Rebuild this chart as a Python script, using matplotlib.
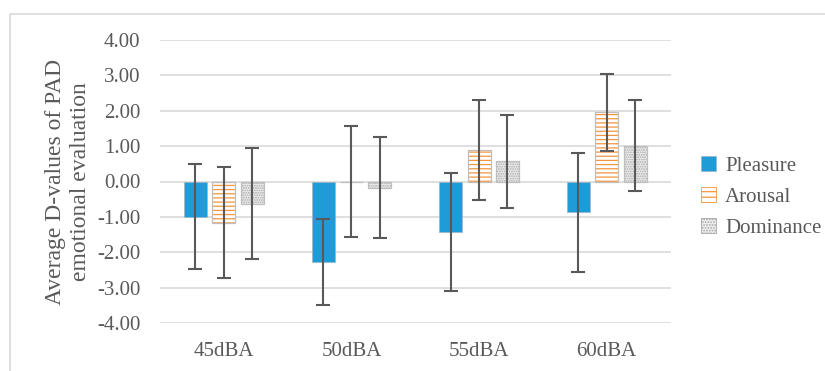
import matplotlib
matplotlib.use("Agg")
import matplotlib.pyplot as plt
import numpy as np
from matplotlib.patches import Rectangle, Patch
from matplotlib.font_manager import FontProperties

categories = ["45dBA", "50dBA", "55dBA", "60dBA"]
series = ["Pleasure", "Arousal", "Dominance"]
pleasure = [-0.99, -2.27, -1.43, -0.87]
pleasure_err = [1.49, 1.21, 1.67, 1.68]
arousal = [-1.16, 0.00, 0.89, 1.96]
arousal_err = [1.57, 1.57, 1.41, 1.09]
dominance = [-0.63, -0.17, 0.57, 1.01]
dominance_err = [1.57, 1.44, 1.32, 1.29]
yticks = [-4, -3, -2, -1, 0, 1, 2, 3, 4]

plt.rcParams['font.family'] = ['Liberation Serif', 'DejaVu Serif']
plt.rcParams['hatch.linewidth'] = 0.9

fig = plt.figure(figsize=(8.25, 3.71), dpi=100)
ax = fig.add_axes([160/825, 1-323/371, (670.5-160)/825, (323-40)/371])

x = np.arange(len(categories))
w = 0.18
off = 0.222
edge = '#bfbfbf'
ecol = '#595959'
txtc = '#595959'

# Pleasure
ax.bar(x - off, pleasure, w, color='#1f9bd7', edgecolor='#9ab8cc', linewidth=0.6, zorder=2)
# Arousal (hatch lines)
ax.bar(x, arousal, w, color='white', edgecolor='#f2963f', hatch='----', linewidth=0, zorder=2)
ax.bar(x, arousal, w, fill=False, edgecolor=edge, linewidth=0.9, zorder=2)
# Dominance (dots)
ax.bar(x + off, dominance, w, color='#f0f0f0', edgecolor='#a6a6a6', hatch='.......', linewidth=0, zorder=2)
ax.bar(x + off, dominance, w, fill=False, edgecolor=edge, linewidth=0.9, zorder=2)

for dx, vals, errs in [(-off, pleasure, pleasure_err), (0, arousal, arousal_err), (off, dominance, dominance_err)]:
    ax.errorbar(x + dx, vals, yerr=errs, fmt='none', ecolor=ecol, elinewidth=1.5,
                capsize=5, capthick=1.5, zorder=3)

ax.set_xlim(-0.5, 3.5)
ax.set_ylim(-4, 4)
ax.set_yticks(yticks)
ax.set_yticklabels([f"{v:.2f}" for v in yticks])
ax.set_xticks(x)
ax.set_xticklabels(categories)
ax.tick_params(axis='both', length=0, labelsize=15, colors=txtc)
ax.tick_params(axis='y', pad=14)
ax.tick_params(axis='x', pad=14)
for s in ax.spines.values():
    s.set_visible(False)
ax.yaxis.grid(True, color='#d9d9d9', linewidth=1.2, zorder=0)
ax.set_axisbelow(True)

fig.text(68/825, 1-182/371, "Average D-values of PAD\nemotional evaluation", rotation=90,
         ha='center', va='center', fontsize=17, color=txtc, linespacing=1.3,
         family=['Liberation Serif', 'DejaVu Serif'])

handles = [
    Patch(facecolor='#1f9bd7', edgecolor='#9ab8cc', linewidth=0.6, label='Pleasure'),
    Patch(facecolor='white', edgecolor='#f2963f', hatch='---', linewidth=0.6, label='Arousal'),
    Patch(facecolor='#f0f0f0', edgecolor='#a6a6a6', hatch='......', linewidth=0.6, label='Dominance'),
]
fp = FontProperties(family='Liberation Serif', size=15)
leg = fig.legend(handles=handles, loc='center left', bbox_to_anchor=(701/825, 1-197/371),
                 frameon=False, prop=fp, handlelength=0.7, handleheight=0.7,
                 handletextpad=0.45, labelspacing=0.55, labelcolor=txtc, borderpad=0,
                 borderaxespad=0)

fig.patches.append(Rectangle((10/825, -0.1), 2, 1.1 - 14/371, transform=fig.transFigure,
                             fill=False, edgecolor='#d9d9d9', linewidth=1.2))

fig.savefig("out.png", dpi=100)
